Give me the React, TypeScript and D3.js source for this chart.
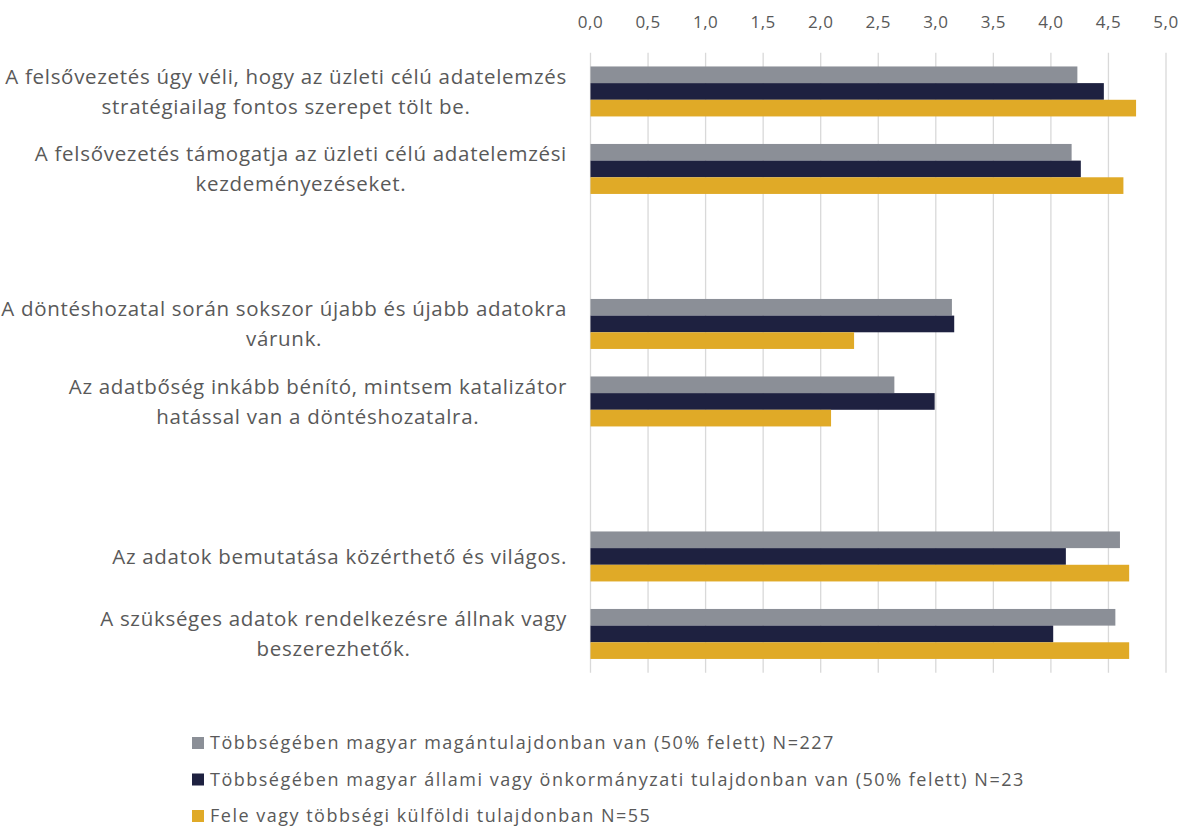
import React, { useEffect, useRef } from "react";
import * as d3 from "d3";

const categories: string[][] = [
  ["A felsővezetés úgy véli, hogy az üzleti célú adatelemzés", "stratégiailag fontos szerepet tölt be."],
  ["A felsővezetés támogatja az üzleti célú adatelemzési", "kezdeményezéseket."],
  [],
  ["A döntéshozatal során sokszor újabb és újabb adatokra", "várunk."],
  ["Az adatbőség inkább bénító, mintsem katalizátor", "hatással van a döntéshozatalra."],
  [],
  ["Az adatok bemutatása közérthető és világos."],
  ["A szükséges adatok rendelkezésre állnak vagy", "beszerezhetők."],
];

const seriesNames = [
  "Többségében magyar magántulajdonban van (50% felett) N=227",
  "Többségében magyar állami vagy önkormányzati tulajdonban van (50% felett) N=23",
  "Fele vagy többségi külföldi tulajdonban N=55",
];

const privateValues: (number | null)[] = [4.23, 4.18, null, 3.14, 2.64, null, 4.6, 4.56];
const stateValues: (number | null)[] = [4.46, 4.26, null, 3.16, 2.99, null, 4.13, 4.02];
const foreignValues: (number | null)[] = [4.74, 4.63, null, 2.29, 2.09, null, 4.68, 4.68];

const tickValues = [0, 0.5, 1, 1.5, 2, 2.5, 3, 3.5, 4, 4.5, 5];

const colors = ["#8b8f97", "#1e2140", "#e0aa27"];

export default function App() {
  const ref = useRef<SVGSVGElement>(null);

  useEffect(() => {
    const svg = d3.select(ref.current);
    svg.selectAll("*").remove();
    const font = "'Open Sans', sans-serif";
    const textColor = "#595959";

    const x = d3.scaleLinear().domain([0, 5]).range([590.5, 1166]);
    const slots = categories.map((_, i) => String(i));
    const y = d3.scaleBand().domain(slots).range([52.7, 672.7]).paddingInner(0.355).paddingOuter(0.1775);
    const inner = d3.scaleBand().domain(["0", "1", "2"]).range([0, y.bandwidth()]);

    // gridlines
    svg
      .append("g")
      .selectAll("line")
      .data(tickValues)
      .join("line")
      .attr("x1", (d) => x(d))
      .attr("x2", (d) => x(d))
      .attr("y1", 52.7)
      .attr("y2", 672.7)
      .attr("stroke", "#d9d9d9")
      .attr("stroke-width", 1.3);

    // tick labels
    const fmt = (d: number) => d.toFixed(1).replace(".", ",");
    svg
      .append("g")
      .selectAll("text")
      .data(tickValues)
      .join("text")
      .attr("x", (d) => x(d))
      .attr("y", 28)
      .attr("text-anchor", "middle")
      .attr("font-family", font)
      .attr("font-size", 17)
      .attr("letter-spacing", 0.5)
      .attr("fill", textColor)
      .text((d) => fmt(d));

    // bars
    const series = [privateValues, stateValues, foreignValues];
    series.forEach((vals, si) => {
      svg
        .append("g")
        .selectAll("rect")
        .data(vals.map((v, i) => ({ v, i })).filter((d) => d.v !== null))
        .join("rect")
        .attr("x", x(0))
        .attr("y", (d) => (y(String(d.i)) as number) + (inner(String(si)) as number))
        .attr("width", (d) => x(d.v as number) - x(0))
        .attr("height", inner.bandwidth())
        .attr("fill", colors[si]);
    });

    // category labels
    const labelRight = 567;
    const lineH = 30;
    const lg = svg.append("g");
    categories.forEach((lines, i) => {
      if (!lines.length) return;
      const cy = (y(String(i)) as number) + y.bandwidth() / 2;
      const texts = lines.map((l, li) =>
        lg
          .append("text")
          .attr("y", cy + (li - (lines.length - 1) / 2) * lineH)
          .attr("dy", "0.35em")
          .attr("text-anchor", "middle")
          .attr("font-family", font)
          .attr("font-size", 20.5)
          .attr("letter-spacing", 0.7)
          .attr("fill", textColor)
          .text(l)
      );
      const widths = texts.map((t) => (t.node() as SVGTextElement).getComputedTextLength());
      const maxW = Math.max(...widths);
      texts.forEach((t) => t.attr("x", labelRight - maxW / 2));
    });

    // legend
    const leg = svg.append("g");
    seriesNames.forEach((name, i) => {
      const ly = 743 + i * 36.5;
      leg
        .append("rect")
        .attr("x", 192)
        .attr("y", ly - 6)
        .attr("width", 12)
        .attr("height", 12)
        .attr("fill", colors[i]);
      leg
        .append("text")
        .attr("x", 210)
        .attr("y", ly)
        .attr("dy", "0.35em")
        .attr("font-family", font)
        .attr("font-size", 18)
        .attr("letter-spacing", 1.5)
        .attr("fill", textColor)
        .text(name);
    });
  }, []);

  return (
    <svg
      ref={ref}
      width={1182}
      height={828}
      style={{ position: "absolute", left: 0, top: 0, background: "#fff" }}
    />
  );
}
